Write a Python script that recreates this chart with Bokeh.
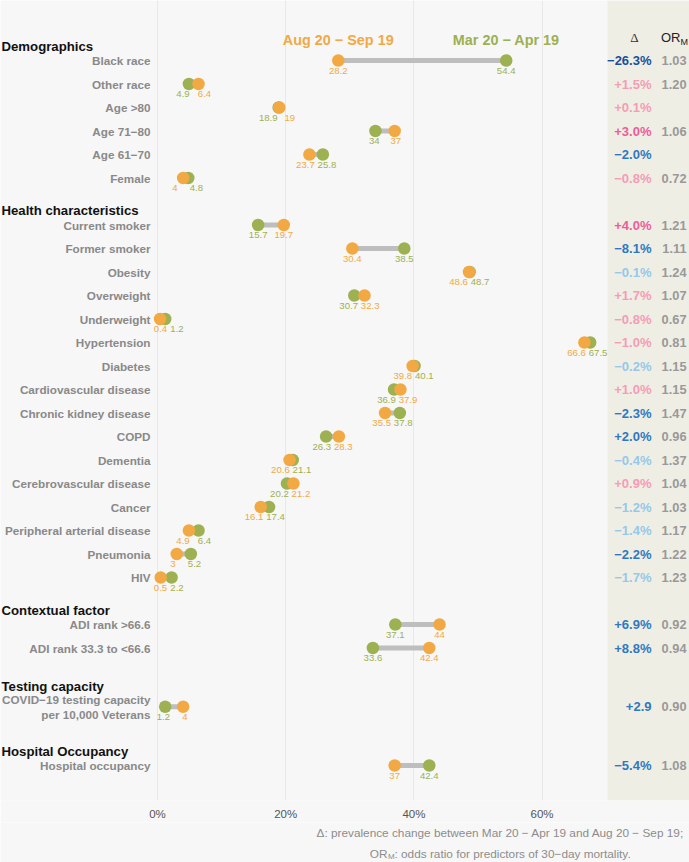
from bokeh.plotting import figure
from bokeh.layouts import column
from bokeh.models import Range1d, FixedTicker, BoxAnnotation, ColumnDataSource
from bokeh.core.properties import value
from bokeh.embed import file_html
from bokeh.resources import INLINE

# ---------------- data ----------------
sections = ["Demographics", "Health characteristics", "Contextual factor",
            "Testing capacity", "Hospital Occupancy"]
row_section = [0, 0, 0, 0, 0, 0,
               1, 1, 1, 1, 1, 1, 1, 1, 1, 1, 1, 1, 1, 1, 1, 1,
               2, 2, 3, 4]
row_labels = ["Black race", "Other race", "Age >80", "Age 71\u221280", "Age 61\u221270", "Female",
              "Current smoker", "Former smoker", "Obesity", "Overweight", "Underweight",
              "Hypertension", "Diabetes", "Cardiovascular disease", "Chronic kidney disease",
              "COPD", "Dementia", "Cerebrovascular disease", "Cancer",
              "Peripheral arterial disease", "Pneumonia", "HIV",
              "ADI rank >66.6", "ADI rank 33.3 to <66.6",
              "COVID\u221219 testing capacity\nper 10,000 Veterans", "Hospital occupancy"]
mar_vals = [54.4, 4.9, 18.9, 34, 25.8, 4.8,
            15.7, 38.5, 48.7, 30.7, 1.2, 67.5, 40.1, 36.9, 37.8, 26.3, 21.1, 20.2, 17.4, 6.4, 5.2, 2.2,
            37.1, 33.6, 1.2, 42.4]
aug_vals = [28.2, 6.4, 19, 37, 23.7, 4,
            19.7, 30.4, 48.6, 32.3, 0.4, 66.6, 39.8, 37.9, 35.5, 28.3, 20.6, 21.2, 16.1, 4.9, 3, 0.5,
            44, 42.4, 4, 37]
delta_text = ["\u221226.3%", "+1.5%", "+0.1%", "+3.0%", "\u22122.0%", "\u22120.8%",
              "+4.0%", "\u22128.1%", "\u22120.1%", "+1.7%", "\u22120.8%", "\u22121.0%", "\u22120.2%",
              "+1.0%", "\u22122.3%", "+2.0%", "\u22120.4%", "+0.9%", "\u22121.2%", "\u22121.4%",
              "\u22122.2%", "\u22121.7%",
              "+6.9%", "+8.8%", "+2.9", "\u22125.4%"]
delta_tone = ["navy", "lpink", "lpink", "pink", "blue", "lpink",
              "pink", "blue", "lblue", "lpink", "lpink", "lpink", "lblue", "lpink", "blue", "blue",
              "lblue", "lpink", "lblue", "lblue", "blue", "lblue",
              "blue", "blue", "blue", "blue"]
or_text = ["1.03", "1.20", "", "1.06", "", "0.72",
           "1.21", "1.11", "1.24", "1.07", "0.67", "0.81", "1.15", "1.15", "1.47", "0.96",
           "1.37", "1.04", "1.03", "1.17", "1.22", "1.23",
           "0.92", "0.94", "0.90", "1.08"]
x_ticks = [0, 20, 40, 60]
tick_labels = ["0%", "20%", "40%", "60%"]
period_aug = "Aug 20 \u2212 Sep 19"
period_mar = "Mar 20 \u2212 Apr 19"
note_1 = "\u0394: prevalence change between Mar 20 \u2212 Apr 19 and Aug 20 \u2212 Sep 19;"
note_2 = ": odds ratio for predictors of 30\u2212day mortality."

# ---------------- styling / layout ----------------
ORANGE = "#F2A944"
GREEN = "#9DB052"
SEG = "#BEBEBE"
BG = "#F7F7F7"
SHADE = "#EFEEE4"
LABEL_GRAY = "#898989"
TONES = {"navy": "#1B4E9B", "blue": "#2E78C2", "lblue": "#96C8EA",
         "lpink": "#F59CB6", "pink": "#EE5C98"}
FONT = "Liberation Sans"

FIG_W = 689
FRAME_H = 800
AXIS_H = 22
NOTE_H = 40
PX = 6.41          # px per percent
X0 = 157           # px of 0%
ROW = 23.5         # px per row slot
ROW0 = 60          # px of slot 0

x_start = -X0 / PX
x_end = (FIG_W - X0) / PX
y_top = -ROW0 / ROW
y_bot = (FRAME_H - ROW0) / ROW

def px2x(px):
    return (px - X0) / PX

# slot positions
row_y = []
head_y = []
cur = -1
for s in range(len(sections)):
    hs = cur
    cur += 1
    first = True
    for i, sec in enumerate(row_section):
        if sec != s:
            continue
        if "\n" in row_labels[i]:
            yv = cur + 0.5
            cur += 2
        else:
            yv = cur
            cur += 1
        row_y.append(yv)
        if first:
            head_y.append(hs + 0.4 + (0.25 if "\n" in row_labels[i] else 0))
            first = False

# value label offsets (push close labels apart)
NEED = 21.5
MIN_GAP = 16.5
mar_off, aug_off = [], []
for m, a in zip(mar_vals, aug_vals):
    lo, hi = min(m, a), max(m, a)
    d = (hi - lo) * PX
    if d >= NEED:
        o_lo, o_hi = 0.0, 0.0
    else:
        o_lo, o_hi = -(NEED - d) / 2, (NEED - d) / 2
    lo_px = X0 + lo * PX
    hi_px = X0 + hi * PX
    if lo_px + o_lo < X0 + 3:
        o_lo = X0 + 3 - lo_px
        o_hi = max(o_hi, lo_px + o_lo + MIN_GAP - hi_px)
    if m <= a:
        mar_off.append(o_lo); aug_off.append(o_hi)
    else:
        mar_off.append(o_hi); aug_off.append(o_lo)

def fmt(v):
    return "{:g}".format(v)

src = ColumnDataSource(dict(
    y=row_y, mar=mar_vals, aug=aug_vals, label=row_labels,
    mar_txt=[fmt(v) for v in mar_vals], aug_txt=[fmt(v) for v in aug_vals],
    mar_off=mar_off, aug_off=aug_off,
    delta=delta_text, delta_col=[TONES[t] for t in delta_tone], orm=or_text,
))

xr = Range1d(x_start, x_end)
p = figure(width=FIG_W, height=FRAME_H + AXIS_H, x_range=xr,
           y_range=Range1d(y_bot, y_top), output_backend="svg", toolbar_location=None,
           y_axis_location=None, title=None,
           min_border_left=0, min_border_right=0, min_border_top=0, min_border_bottom=AXIS_H)
p.background_fill_color = BG
p.border_fill_color = BG
p.outline_line_color = None

p.xaxis.ticker = FixedTicker(ticks=x_ticks)
p.xaxis.major_label_overrides = {t: l for t, l in zip(x_ticks, tick_labels)}
p.xaxis.axis_line_color = None
p.xaxis.major_tick_line_color = None
p.xaxis.minor_tick_line_color = None
p.xaxis.major_tick_out = 0
p.xaxis.major_tick_in = 0
p.xaxis.major_label_standoff = 7
p.xaxis.major_label_text_font = FONT
p.xaxis.major_label_text_font_size = "11.5px"
p.xaxis.major_label_text_color = "#555555"
p.xgrid.ticker = FixedTicker(ticks=x_ticks)
p.xgrid.grid_line_color = "#E8E8E8"
p.xgrid.grid_line_width = 1
p.ygrid.visible = False

p.add_layout(BoxAnnotation(left=px2x(607), fill_color=SHADE, fill_alpha=1.0,
                           line_color=None, level="underlay"))

# segments and dots
p.segment(x0="mar", x1="aug", y0="y", y1="y", source=src, line_color=SEG, line_width=5)
p.scatter(x="mar", y="y", source=src, size=12.5, fill_color=GREEN, line_color=None)
p.scatter(x="aug", y="y", source=src, size=12.5, fill_color=ORANGE, line_color=None)

# value labels
p.text(x="mar", y="y", text="mar_txt", source=src, x_offset="mar_off", y_offset=10,
       text_align="center", text_baseline="middle", text_font=value(FONT),
       text_font_size="9.6px", text_color=GREEN)
p.text(x="aug", y="y", text="aug_txt", source=src, x_offset="aug_off", y_offset=10,
       text_align="center", text_baseline="middle", text_font=value(FONT),
       text_font_size="9.6px", text_color=ORANGE)

# row labels
p.text(x=0, y="y", text="label", source=src, x_offset=-7, text_align="right",
       text_baseline="middle", text_font=value(FONT), text_font_size="11.7px",
       text_font_style="bold", text_color=LABEL_GRAY, text_line_height=1.12)

# section headers
p.text(x=[x_start] * len(sections), y=head_y, text=sections, x_offset=1,
       text_align="left", text_baseline="middle", text_font=value(FONT),
       text_font_size="13.2px", text_font_style="bold", text_color="#111111")

# period headers
p.text(x=[aug_vals[0]], y=[row_y[0]], text=[period_aug], y_offset=-21,
       text_align="center", text_baseline="middle", text_font=value(FONT),
       text_font_size="14.4px", text_font_style="bold", text_color=ORANGE)
p.text(x=[mar_vals[0]], y=[row_y[0]], text=[period_mar], y_offset=-21,
       text_align="center", text_baseline="middle", text_font=value(FONT),
       text_font_size="14.4px", text_font_style="bold", text_color=GREEN)

# right columns
p.text(x=px2x(651), y="y", text="delta", source=src, text_align="right",
       text_baseline="middle", text_font=value(FONT), text_font_size="13px",
       text_font_style="bold", text_color="delta_col")
p.text(x=px2x(686), y="y", text="orm", source=src, text_align="right",
       text_baseline="middle", text_font=value(FONT), text_font_size="12.8px",
       text_font_style="bold", text_color="#999999")
p.text(x=[px2x(634)], y=[row_y[0]], text=["\u0394"], y_offset=-23,
       text_align="center", text_baseline="middle", text_font=value("Liberation Serif"),
       text_font_size="13px", text_color="#333333")
p.text(x=[px2x(680)], y=[row_y[0]], text=["OR"], y_offset=-23,
       text_align="right", text_baseline="middle", text_font=value(FONT),
       text_font_size="13px", text_color="#222222")
p.text(x=[px2x(680)], y=[row_y[0]], text=["M"], y_offset=-19,
       text_align="left", text_baseline="middle", text_font=value(FONT),
       text_font_size="9px", text_color="#222222")

# footnotes in a strip below
NOTE_COL = "#8C8C8C"
pn = figure(width=FIG_W, height=NOTE_H, x_range=xr, y_range=Range1d(NOTE_H, 0),
            output_backend="svg", toolbar_location=None, title=None,
            x_axis_location=None, y_axis_location=None, min_border=0)
pn.background_fill_color = BG
pn.border_fill_color = BG
pn.outline_line_color = None
pn.xgrid.visible = False
pn.ygrid.visible = False
pn.text(x=[px2x(500)], y=[10], text=[note_1], text_align="center", text_baseline="middle",
        text_font=value(FONT), text_font_size="11.8px", text_color=NOTE_COL)
pn.text(x=[px2x(387)], y=[31], text=["OR"], text_align="right", text_baseline="middle",
        text_font=value(FONT), text_font_size="11.8px", text_color=NOTE_COL)
pn.text(x=[px2x(387.5)], y=[34], text=["M"], text_align="left", text_baseline="middle",
        text_font=value(FONT), text_font_size="8px", text_color=NOTE_COL)
pn.text(x=[px2x(394)], y=[31], text=[note_2], text_align="left", text_baseline="middle",
        text_font=value(FONT), text_font_size="11.8px", text_color=NOTE_COL)

page = column(p, pn, spacing=0)
open("out.html", "w").write(file_html(page, INLINE))
